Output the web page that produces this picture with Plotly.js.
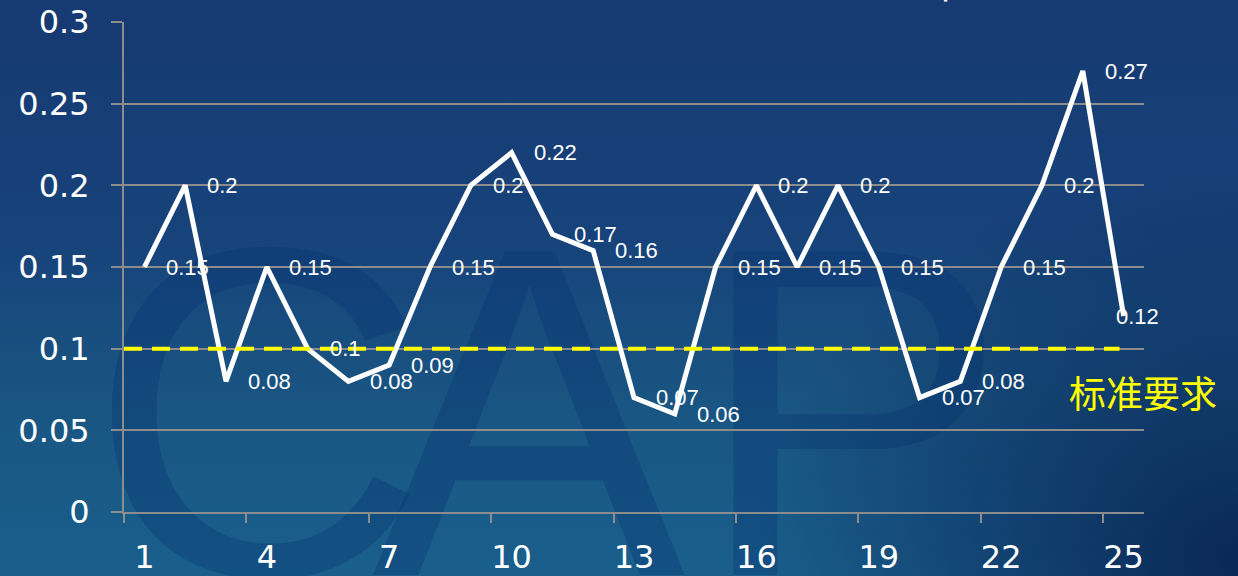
<!DOCTYPE html>
<html>
<head>
<meta charset="utf-8">
<script src="https://cdn.plot.ly/plotly-3.0.1.min.js"></script>
<style>
  html, body { margin: 0; padding: 0; }
  body {
    width: 1238px; height: 576px; overflow: hidden; position: relative;
    background:
      radial-gradient(ellipse 480px 400px at 1238px 560px, rgba(8,34,82,0.9), rgba(8,34,82,0) 100%),
      linear-gradient(180deg, #163a71 0%, #17427a 40%, #195582 70%, #1a5f8c 100%);
  }
  #backdrop { position: absolute; left: 0; top: 0; z-index: 0; }
  #chart { position: absolute; left: 0; top: 0; width: 1238px; height: 576px; z-index: 1; }
</style>
</head>
<body>
<!-- faint lettering behind the chart -->
<svg id="backdrop" width="1238" height="576">
  <g font-family="Liberation Sans, Arial, sans-serif" font-size="470" fill="rgba(2,48,110,0.30)">
    <text x="88" y="575">C</text>
    <text x="372" y="575">A</text>
    <text x="695" y="575">P</text>
  </g>
</svg>
<div id="chart"></div>
<script>
// Sample number along the horizontal axis
const samples = [1,2,3,4,5,6,7,8,9,10,11,12,13,14,15,16,17,18,19,20,21,22,23,24,25];
// Measured values for each sample
const values = [0.15,0.2,0.08,0.15,0.1,0.08,0.09,0.15,0.2,0.22,0.17,0.16,0.07,0.06,0.15,0.2,0.15,0.2,0.15,0.07,0.08,0.15,0.2,0.27,0.12];
// Standard requirement level
const standardValue = 0.1;
const standardLabel = '标准要求';
// Axis ticks
const xTickVals = [1,4,7,10,13,16,19,22,25];
const xTickText = ['1','4','7','10','13','16','19','22','25'];
const xBoundaryTicks = [0.5,3.5,6.5,9.5,12.5,15.5,18.5,21.5,24.5];
const yTickVals = [0,0.05,0.1,0.15,0.2,0.25,0.3];
const yTickText = ['0','0.05','0.1','0.15','0.2','0.25','0.3'];

const gridGray = '#8c8c8c';
const tickFont = {family: 'DejaVu Sans', size: 32, color: '#ffffff'};

const valueTrace = {
  x: samples, y: values, type: 'scatter', mode: 'lines',
  line: {color: '#ffffff', width: 5, shape: 'linear'},
  hoverinfo: 'skip', showlegend: false
};

// Invisible trace carrying the boundary tick marks on the overlaid axis
const tickTrace = {
  x: [samples[0], samples[samples.length - 1]], y: [0, 0], xaxis: 'x2',
  type: 'scatter', mode: 'none', hoverinfo: 'skip', showlegend: false
};

const lastIdx = values.length - 1;
const valueLabels = values.map((v, i) => ({
  x: samples[i], y: v, xref: 'x', yref: 'y',
  text: String(v), showarrow: false,
  xanchor: 'left', yanchor: 'middle',
  xshift: i === lastIdx ? -10 : 20,
  font: {family: 'Liberation Sans, Arial, sans-serif', size: 22, color: '#ffffff'}
}));

const layout = {
  width: 1238, height: 576,
  paper_bgcolor: 'rgba(0,0,0,0)', plot_bgcolor: 'rgba(0,0,0,0)',
  margin: {l: 124, r: 94, t: 22, b: 64, pad: 0},
  showlegend: false,
  xaxis: {
    range: [0.5, 25.5], tickmode: 'array', tickvals: xTickVals, ticktext: xTickText,
    ticks: '', showgrid: false, zeroline: false,
    showline: true, linecolor: gridGray, linewidth: 2,
    tickfont: tickFont, ticklabelstandoff: 16, fixedrange: true
  },
  xaxis2: {
    overlaying: 'x', side: 'bottom', anchor: 'y',
    range: [0.5, 25.5], tickmode: 'array', tickvals: xBoundaryTicks,
    ticks: 'outside', ticklen: 10, tickwidth: 2, tickcolor: gridGray,
    showticklabels: false, showgrid: false, zeroline: false, showline: false
  },
  yaxis: {
    range: [0, 0.3], tickmode: 'array', tickvals: yTickVals, ticktext: yTickText,
    ticks: 'outside', ticklen: 11, tickwidth: 2, tickcolor: gridGray,
    showgrid: true, gridcolor: gridGray, gridwidth: 2,
    showline: true, linecolor: gridGray, linewidth: 2, zeroline: false,
    tickfont: tickFont, ticklabelstandoff: 15, fixedrange: true
  },
  shapes: [
    {type: 'line', xref: 'x', yref: 'y', x0: 0.5, x1: 24.9, y0: standardValue, y1: standardValue,
     line: {color: '#ffff00', width: 4, dash: '18px,10px'}, layer: 'above'}
  ],
  annotations: valueLabels.concat([
    {x: 1, y: standardValue, xref: 'paper', yref: 'y', xanchor: 'right', yanchor: 'middle',
     xshift: 75, yshift: -43, text: standardLabel, showarrow: false,
     font: {family: 'Noto Sans CJK SC', size: 37, color: '#ffff00'}},
    {x: 1043 / 1238, y: 1, xref: 'paper', yref: 'paper', xanchor: 'right', yanchor: 'bottom',
     yshift: 9, text: '值', showarrow: false,
     font: {family: 'Noto Sans CJK SC', size: 44, color: '#ffffff'}}
  ])
};

Plotly.newPlot('chart', [valueTrace, tickTrace], layout, {displayModeBar: false, staticPlot: true});
</script>
</body>
</html>
